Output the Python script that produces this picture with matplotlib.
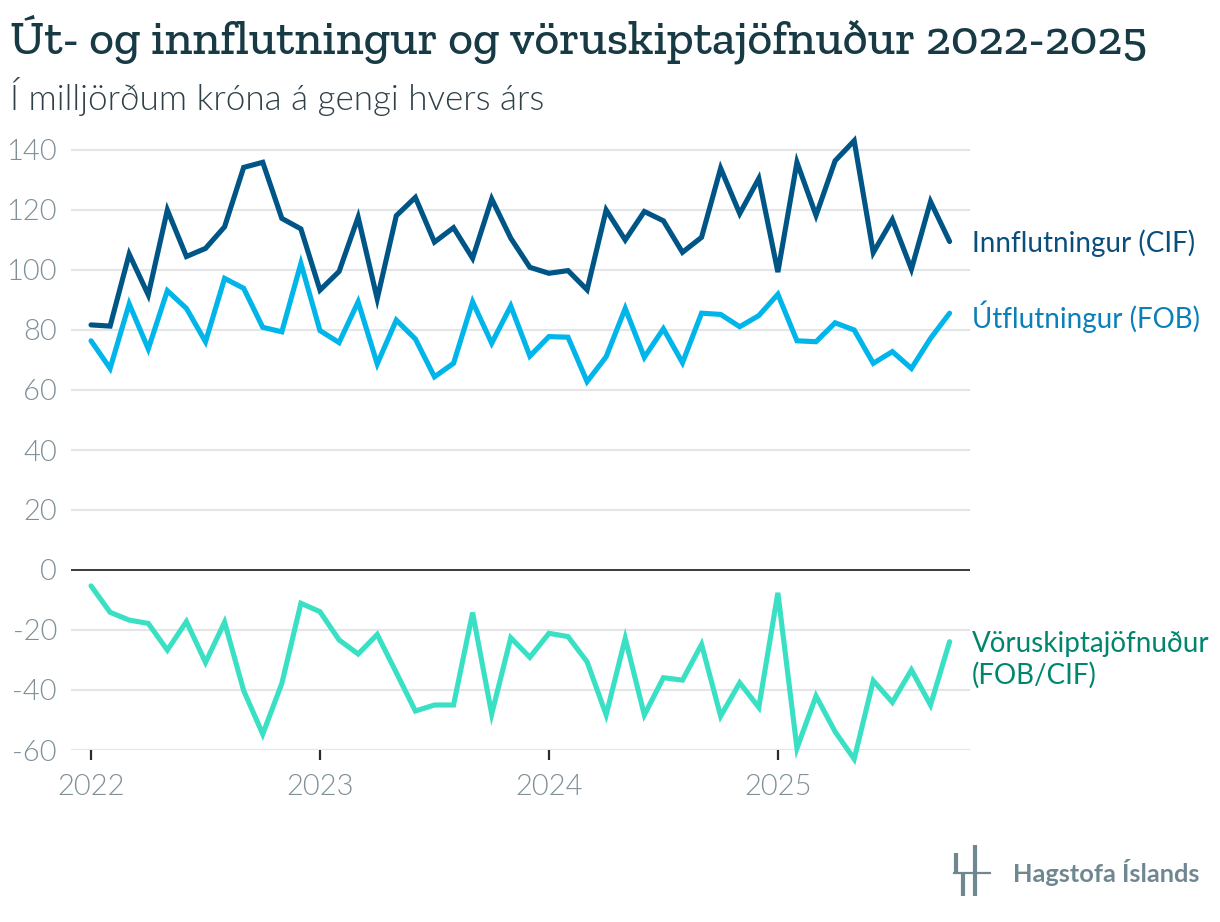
import matplotlib
matplotlib.use("Agg")
import matplotlib.pyplot as plt
from matplotlib.lines import Line2D
from matplotlib import font_manager as fm

# Monthly values, Jan 2022 - Oct 2025 (ma.kr.)
months = list(range(46))
innflutningur = [
    81.7, 81.3, 105.3, 91.7, 120.0, 104.5, 107.2, 114.4, 134.2, 135.9, 117.2, 113.7,
    93.3, 99.5, 117.6, 90.4, 118.1, 124.2, 109.3, 114.1, 103.9, 123.7, 110.6, 100.9,
    98.9, 99.8, 93.4, 120.0, 110.0, 119.5, 116.4, 105.9, 110.9, 133.9, 118.8, 130.5,
    99.3, 135.9, 118.2, 136.4, 143.1, 105.8, 116.8, 100.3, 122.8, 109.5,
]
utflutningur = [
    76.4, 67.2, 88.7, 73.7, 93.1, 87.2, 76.1, 97.2, 93.9, 80.9, 79.4, 102.2,
    79.8, 75.8, 89.4, 68.7, 83.3, 77.0, 64.4, 68.9, 89.4, 75.6, 88.0, 71.3,
    77.8, 77.6, 62.8, 71.1, 87.2, 70.9, 80.4, 69.1, 85.6, 85.2, 81.1, 84.8,
    91.9, 76.4, 76.1, 82.4, 80.0, 68.9, 72.8, 67.2, 77.2, 85.6,
]
vöruskiptajöfnuður = [
    -5.3, -14.1, -16.7, -17.8, -26.7, -17.2, -30.8, -17.4, -40.2, -54.7, -37.8, -11.1,
    -13.9, -23.3, -28.0, -21.5, -34.2, -47.0, -45.0, -45.0, -14.2, -48.0, -22.6, -29.1,
    -21.1, -22.2, -30.6, -48.3, -22.8, -48.3, -35.9, -36.7, -24.8, -48.7, -37.6, -45.8,
    -7.6, -59.4, -42.0, -53.9, -63.0, -36.9, -44.1, -33.3, -45.0, -23.9,
]
year_ticks = [0, 12, 24, 36]
year_labels = ["2022", "2023", "2024", "2025"]
y_ticks = [-60, -40, -20, 0, 20, 40, 60, 80, 100, 120, 140]

C_IMP = "#005587"
C_EXP = "#00b5ea"
C_BAL = "#3ae0c4"
GRID = "#e3e5e6"
TICK = "#7f9098"

installed = {f.name for f in fm.fontManager.ttflist}
title_family = next((n for n in ["Zilla Slab", "Roboto Slab", "Bree Serif", "DejaVu Serif"]
                     if n in installed), "DejaVu Serif")

fig = plt.figure(figsize=(12.2, 9.22), dpi=100)
ax = fig.add_axes([71 / 1220, 1 - 750 / 922, (970 - 71) / 1220, (750 - 135) / 922])

ax.set_xlim(-1.05, 46.07)
ax.set_ylim(-60, 145)
for v in y_ticks:
    if v == 0:
        ax.axhline(0, color="#2b2b2b", linewidth=1.3, zorder=2)
    else:
        ax.axhline(v, color=GRID, linewidth=1.5, zorder=1)

lw = 3.7
for series, col in [(innflutningur, C_IMP), (utflutningur, C_EXP), (vöruskiptajöfnuður, C_BAL)]:
    ax.plot(months, series, color=col, linewidth=lw, solid_capstyle="round",
            solid_joinstyle="miter", clip_on=False, zorder=3)

for s in ax.spines.values():
    s.set_visible(False)
ax.set_yticks(y_ticks)
ax.set_yticklabels([str(v) for v in y_ticks])
ax.set_xticks(year_ticks)
ax.set_xticklabels(year_labels)
ax.tick_params(axis="y", length=0, pad=10, labelsize=21, labelcolor=TICK)
ax.tick_params(axis="x", length=7.5, width=1.6, color="#2b2b2b", pad=10,
               labelsize=21, labelcolor=TICK)
for lab in ax.get_xticklabels() + ax.get_yticklabels():
    lab.set_fontfamily("Lato")
    lab.set_fontweight(300)

# series labels at the right
lab_kw = dict(transform=ax.transData, fontsize=20, family="Lato", ha="left", va="center",
              clip_on=False)
ax.text(46.17, 109.0, "Innflutningur (CIF)", color="#0a4f7c", **lab_kw)
ax.text(46.17, 84.3, "Útflutningur (FOB)", color="#0b80b8", **lab_kw)
ax.text(46.17, -30.0, "Vöruskiptajöfnuður\n(FOB/CIF)", color="#00866e",
        linespacing=1.2, **lab_kw)

# titles, scaled to the reference width
title = fig.text(10 / 1220, 1 - 40 / 922, "Út- og innflutningur og vöruskiptajöfnuður 2022-2025",
                 family=title_family, fontweight="medium", fontsize=30, color="#173a44",
                 ha="left", va="center")
subtitle = fig.text(10 / 1220, 1 - 97 / 922, "Í milljörðum króna á gengi hvers árs",
                    family="Lato", fontweight=300, fontsize=24, color="#2e4148",
                    ha="left", va="center")
renderer = fig.canvas.get_renderer()
for txt, width in [(title, 1138), (subtitle, 535)]:
    w = txt.get_window_extent(renderer).width
    txt.set_fontsize(txt.get_fontsize() * width / w)

# logo
LOGO = "#6f8790"
for x0, y0, y1 in [(955.5, 853, 873), (962.5, 873, 896), (975, 845, 896)]:
    fig.add_artist(Line2D([x0 / 1220] * 2, [1 - y0 / 922, 1 - y1 / 922], color=LOGO,
                          linewidth=3.0, solid_capstyle="butt"))
fig.add_artist(Line2D([953 / 1220, 991 / 1220], [1 - 873 / 922] * 2, color=LOGO,
                      linewidth=1.6, solid_capstyle="butt"))
logo = fig.text(1013 / 1220, 1 - 872 / 922, "Hagstofa Íslands", family="Lato", fontweight="bold",
                fontsize=19, color=LOGO, ha="left", va="center")
w = logo.get_window_extent(renderer).width
logo.set_fontsize(logo.get_fontsize() * 186 / w)

fig.savefig("out.png", dpi=100)
